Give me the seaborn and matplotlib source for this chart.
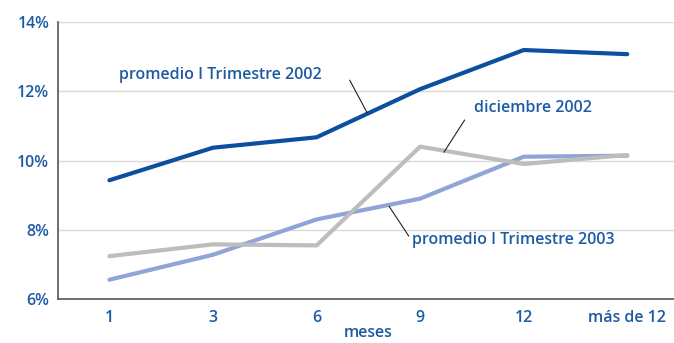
import matplotlib
matplotlib.use("Agg")
import matplotlib.pyplot as plt
import seaborn as sns
import pandas as pd
import numpy as np

categories = ["1", "3", "6", "9", "12", "más de 12"]
trim2002 = [9.43, 10.37, 10.67, 12.06, 13.19, 13.07]
dic2002 = [7.24, 7.58, 7.55, 10.40, 9.90, 10.16]
trim2003 = [6.56, 7.28, 8.30, 8.90, 10.11, 10.14]
y_ticks = [6, 8, 10, 12, 14]
series_names = ["promedio I Trimestre 2002", "diciembre 2002", "promedio I Trimestre 2003"]

sns.set_theme(style="white")
plt.rcParams['font.family'] = ['Open Sans', 'DejaVu Sans']

txt = "#1d5ba4"
fs = 11.5
colors = {series_names[0]: "#0b4f9e", series_names[1]: "#bdbdbd", series_names[2]: "#90a4d6"}

rows = []
for name, vals in zip(series_names, [trim2002, dic2002, trim2003]):
    for i, (c, v) in enumerate(zip(categories, vals)):
        rows.append({"pos": i, "mes": c, "valor": v, "serie": name})
df = pd.DataFrame(rows)

fig = plt.figure(figsize=(6.74, 3.43), dpi=100)
ax = fig.add_axes([0.0855, 0.128, 0.922, 0.808])

for yt in y_ticks:
    ax.axhline(yt, color="#d9d9d9", lw=1.0, zorder=0)

draw_order = [series_names[2], series_names[1], series_names[0]]
for name in draw_order:
    sub = df[df["serie"] == name]
    sns.lineplot(data=sub, x="pos", y="valor", ax=ax, color=colors[name], lw=3.0,
                 legend=False, zorder=3)

ax.set_xlim(-0.5, len(categories) - 0.5)
ax.set_ylim(6, 14)
ax.set_yticks(y_ticks)
ax.set_yticklabels([f"{t}%" for t in y_ticks], color=txt, fontsize=fs, fontweight="semibold")
ax.set_xticks(range(len(categories)))
ax.set_xticklabels(categories, color=txt, fontsize=fs, fontweight="semibold")
ax.set_xticks(np.arange(0.5, len(categories) - 0.5, 1), minor=True)
ax.tick_params(axis="x", which="major", length=0, pad=8)
ax.tick_params(axis="x", which="minor", length=4, width=1, color="#555555", direction="out")
ax.tick_params(axis="y", which="major", length=3, width=1, color="#555555", direction="out", pad=3)
ax.set_xlabel("meses", color=txt, fontsize=fs, fontweight="semibold", labelpad=-1)
ax.set_ylabel("")

for s in ["top", "right"]:
    ax.spines[s].set_visible(False)
for s in ["left", "bottom"]:
    ax.spines[s].set_color("#555555")
    ax.spines[s].set_linewidth(1.2)

# annotations: text labels and thin leader lines
ax.text(0.097, 12.47, series_names[0], color=txt, fontsize=fs, fontweight="semibold",
        va="center", ha="left")
ax.text(3.52, 11.51, series_names[1], color=txt, fontsize=fs, fontweight="semibold",
        va="center", ha="left")
ax.text(2.92, 7.70, series_names[2], color=txt, fontsize=fs, fontweight="semibold",
        va="center", ha="left")
leader = dict(arrowstyle="-", color="#222222", lw=0.8, shrinkA=0, shrinkB=0)
ax.annotate("", xy=(2.49, 11.37), xytext=(2.32, 12.32), arrowprops=leader)
ax.annotate("", xy=(3.23, 10.24), xytext=(3.43, 11.17), arrowprops=leader)
ax.annotate("", xy=(2.70, 8.68), xytext=(2.89, 7.82), arrowprops=leader)

fig.savefig("out.png", dpi=100)
